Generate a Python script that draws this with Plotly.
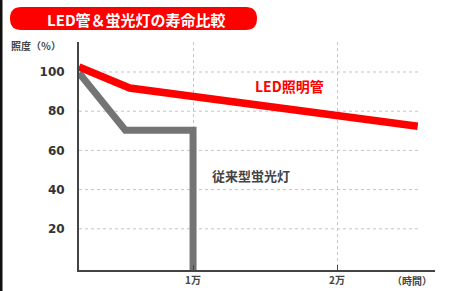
import plotly.graph_objects as go

# Data (hours, illuminance %)
led_hours = [2080, 5600, 25600]
led_lux = [102.6, 91.8, 72.3]
fl_hours = [2080, 5300, 10000, 10000]
fl_lux = [99.5, 70.3, 70.3, -1]
y_ticks = [20, 40, 60, 80, 100]
x_ticks = [10000, 20000]
x_tick_labels = ["1万", "2万"]

FONT = "Noto Sans CJK JP"
W, H = 453, 291
L, R, T, B = 79, 18, 42, 21
X0, X1 = 2080, 26800
Y0, Y1 = -1, 115.3

pw = W - L - R
ph = H - T - B
def px(x):
    return (x - L) / pw
def py(y):
    return (H - B - y) / ph

fig = go.Figure()

# horizontal dotted grid lines
for v in y_ticks:
    fig.add_shape(type="line", xref="x", yref="y", x0=X0, x1=X0 + (420 - L) / pw * (X1 - X0),
                  y0=v, y1=v, line=dict(color="#c4c4c4", width=1, dash="dot"), layer="below")

fig.add_trace(go.Scatter(x=fl_hours, y=fl_lux, mode="lines",
                         line=dict(color="#747474", width=7), hoverinfo="skip"))
fig.add_trace(go.Scatter(x=led_hours, y=led_lux, mode="lines",
                         line=dict(color="#ff0000", width=7.5), hoverinfo="skip"))

# Title pill (rounded rectangle path in paper coords)
x0p, x1p, y0p, y1p = px(10), px(257), py(30), py(7)
rx = 11.5 / pw
path = (f"M {x0p+rx},{y0p} L {x1p-rx},{y0p} "
        f"Q {x1p},{y0p} {x1p},{(y0p+y1p)/2} Q {x1p},{y1p} {x1p-rx},{y1p} "
        f"L {x0p+rx},{y1p} Q {x0p},{y1p} {x0p},{(y0p+y1p)/2} Q {x0p},{y0p} {x0p+rx},{y0p} Z")
fig.add_shape(type="path", xref="paper", yref="paper", path=path,
              fillcolor="#ff0000", line=dict(width=0), layer="below")
fig.add_annotation(xref="paper", yref="paper", x=px(136), y=py(19), xanchor="center", yanchor="middle",
                   text="<b>LED管＆蛍光灯の寿命比較</b>",
                   showarrow=False, font=dict(family=FONT, size=15, color="white"))

# left black border
fig.add_shape(type="line", xref="paper", yref="paper", x0=px(1), x1=px(1), y0=py(291), y1=py(0),
              line=dict(color="#111111", width=3))

# axis title and unit
fig.add_annotation(xref="paper", yref="paper", x=px(9), y=py(45), xanchor="left", yanchor="middle",
                   text="<b>照度（％）</b>",
                   showarrow=False, font=dict(family=FONT, size=10, color="#444444"))
fig.add_annotation(xref="paper", yref="paper", x=px(412), y=py(280), xanchor="center", yanchor="middle",
                   text="<b>（時間）</b>",
                   showarrow=False, font=dict(family=FONT, size=10, color="#444444"))

# series labels
fig.add_annotation(x=16730, y=93.0, xref="x", yref="y", text="<b>LED照明管</b>", showarrow=False,
                   font=dict(family=FONT, size=14, color="#ff0000"))
fig.add_annotation(x=14020, y=47.4, xref="x", yref="y", text="<b>従来型蛍光灯</b>", showarrow=False,
                   font=dict(family=FONT, size=13, color="#444444"))

fig.update_layout(
    width=W, height=H, margin=dict(l=L, r=R, t=T, b=B, autoexpand=False),
    paper_bgcolor="white", plot_bgcolor="white", showlegend=False,
    xaxis=dict(range=[X0, X1], tickvals=x_ticks, ticktext=[f"<b>{t}</b>" for t in x_tick_labels],
               showgrid=True, automargin=False,
               gridcolor="#c4c4c4", griddash="dot", gridwidth=1, zeroline=False,
               showline=True, linecolor="#444444", linewidth=2, ticks="inside", ticklen=5,
               tickcolor="#444444", tickfont=dict(family=FONT, size=10, color="#444444")),
    yaxis=dict(range=[Y0, Y1], tickvals=y_ticks, ticktext=[f"<b>{v}</b>" for v in y_ticks],
               showgrid=False, zeroline=False, showline=True, linecolor="#444444", linewidth=2,
               automargin=False,
               ticks="", ticklabelstandoff=10, tickfont=dict(family="DejaVu Sans", size=12, color="#333333")),
)

fig.write_html("out.html", config={"displayModeBar": False},
               post_script="document.body.style.margin='0';document.body.style.overflow='hidden';")
